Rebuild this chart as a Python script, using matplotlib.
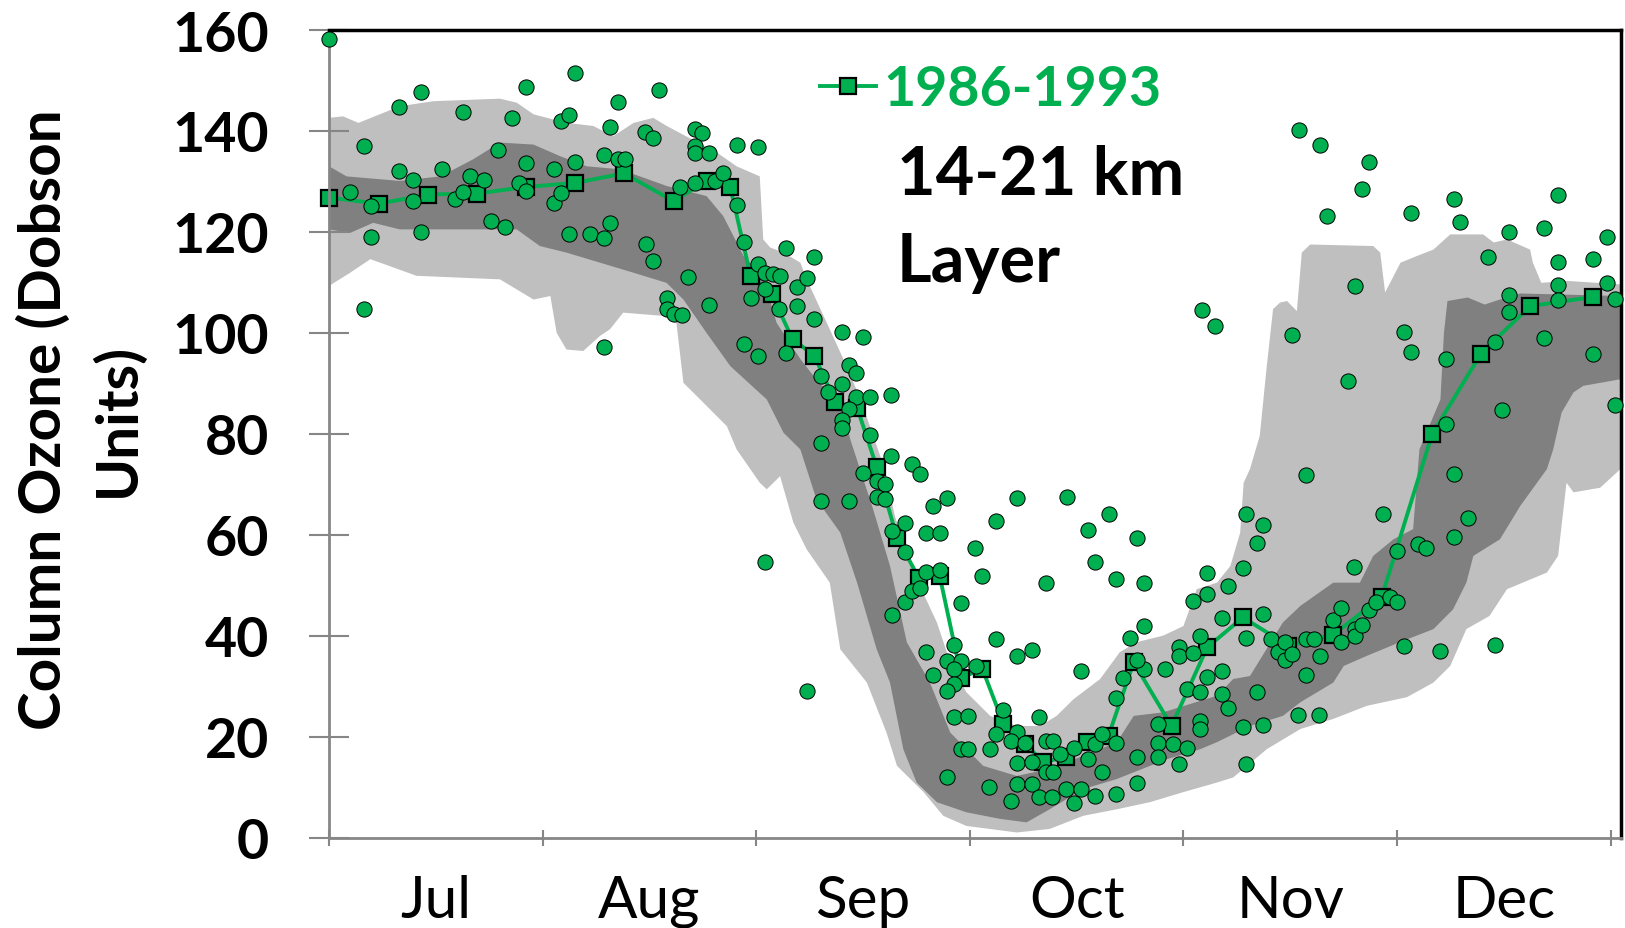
import numpy as np
import matplotlib
matplotlib.use("Agg")
import matplotlib.pyplot as plt
from matplotlib.font_manager import FontProperties

# x is days since 1 July, y is column ozone in DU
months = ["Jul", "Aug", "Sep", "Oct", "Nov", "Dec"]
month_len = 30.5

# climatology envelope (outer band)
light_top_day = [0, 2, 4.2, 10.1, 14.9, 24.4, 26.8, 29.2, 33.9, 37.7, 40.6, 43.5, 46.3, 48.2, 55.4, 58.2,
                 61.5, 62.0, 63.0, 64.9, 67.3, 68.2, 71.5, 73.9, 75.9, 79.2, 80.8, 82.5, 83.9, 86.8, 88.7,
                 91.0, 94.4, 98.2, 101.5, 103.9, 106.3, 110.1, 112.9, 115.3, 119.1, 122.0, 123.9, 126.8,
                 128.7, 130.1, 130.6, 131.5, 132.9, 133.9, 134.8, 135.8, 136.8, 138.2, 138.9, 140.1, 149.1,
                 150.1, 150.8, 153.0, 155.3, 157.7, 160.1, 164.8, 166.3, 168.2, 171.5, 171.9, 173.1, 176.7, 184.4]
light_top_du = [142.6, 142.9, 141.6, 144.9, 145.9, 146.4, 145.6, 143.3, 141.6, 141.0, 139.0, 141.6, 142.6,
                141.0, 135.7, 133.0, 131.0, 118.5, 116.9, 115.9, 113.9, 110.6, 100.7, 93.4, 86.8, 73.6, 63.7,
                56.5, 51.2, 42.6, 34.7, 28.8, 24.1, 22.1, 22.1, 24.1, 27.4, 31.4, 36.7, 38.7, 40.0, 41.9, 49.2,
                50.5, 53.8, 60.4, 70.3, 73.0, 79.6, 93.4, 104.7, 106.0, 106.3, 104.3, 115.9, 117.5, 117.2,
                115.9, 108.0, 113.9, 115.2, 116.5, 119.5, 119.5, 117.9, 118.5, 116.5, 113.9, 109.9, 110.3, 109.6]
light_bot_day = [0, 3, 5.9, 7.3, 12.5, 24.4, 26.8, 29.2, 31.6, 32.5, 33.9, 36.3, 38.7, 40.1, 42.0, 48.2,
                 49.6, 50.6, 53.0, 56.8, 58.2, 61.5, 62.5, 64.4, 66.3, 68.2, 71.5, 73.0, 76.8, 79.6, 81.1,
                 84.9, 87.7, 91.0, 98.2, 102.9, 107.7, 112.5, 117.2, 122.0, 126.8, 129.1, 133.9, 138.7,
                 143.4, 148.2, 153.9, 157.7, 160.1, 162.4, 165.7, 168.2, 173.9, 175.5, 176.7, 177.7, 181.5, 184.4]
light_bot_du = [109.3, 111.9, 114.6, 113.9, 111.3, 110.6, 108.6, 106.6, 107.3, 100.0, 96.7, 96.4, 99.4,
                100.7, 104.0, 103.3, 102.0, 90.1, 86.8, 81.5, 76.9, 70.3, 69.0, 71.6, 62.4, 57.1, 50.5, 37.3,
                30.7, 20.8, 14.2, 9.0, 4.3, 2.3, 1.0, 1.7, 4.3, 5.6, 7.0, 9.0, 10.9, 11.9, 17.5, 21.5, 23.5,
                26.1, 27.8, 30.7, 34.0, 41.3, 43.9, 49.2, 52.5, 55.8, 70.3, 68.4, 69.3, 73.0]

# inner band
dark_top_day = [0, 2.5, 10.1, 15.9, 20.6, 24.4, 29.2, 33.0, 36.8, 41.6, 48.2, 53.9, 56.3, 59.2, 62.0, 63.9,
                67.3, 70.0, 73.3, 74.4, 77.7, 80.1, 82.5, 85.8, 88.7, 93.4, 98.2, 102.9, 107.7, 112.5, 114.9,
                119.1, 126.8, 129.1, 131.5, 136.2, 138.7, 143.4, 147.2, 149.1, 152.0, 154.8, 155.7, 158.7,
                159.2, 159.7, 162.6, 165.0, 167.2, 170.1, 184.4]
dark_top_du = [133.0, 131.0, 130.1, 131.0, 134.4, 137.7, 137.3, 135.0, 133.0, 132.4, 129.1, 127.1, 123.1,
               115.2, 111.2, 102.0, 94.8, 90.0, 86.0, 79.0, 65.0, 53.8, 38.7, 30.7, 20.8, 14.2, 12.2, 13.6,
               16.2, 18.9, 24.1, 24.8, 28.1, 31.4, 32.0, 42.6, 45.9, 50.5, 50.5, 55.8, 59.1, 61.1, 76.9, 86.8,
               100.0, 106.3, 107.0, 105.6, 106.6, 107.8, 107.3]
dark_bot_day = [0, 3, 6.3, 10.1, 26.8, 30.1, 33.9, 38.7, 43.5, 48.2, 50.6, 53.9, 57.3, 62.5, 64.9, 67.3,
                69.6, 73.0, 75.4, 78.2, 80.1, 82.0, 83.9, 86.8, 91.0, 95.8, 99.6, 102.9, 107.7, 112.5, 119.6,
                124.4, 126.8, 131.5, 136.2, 138.7, 143.4, 144.9, 148.2, 152.9, 157.7, 160.5, 162.4, 163.4,
                167.2, 170.1, 173.9, 174.8, 176.0, 177.7, 179.1, 184.4]
dark_bot_du = [120.5, 119.8, 121.8, 120.5, 120.5, 117.2, 115.9, 113.9, 111.9, 109.9, 106.6, 100.0, 93.4,
               86.8, 80.2, 76.9, 67.0, 60.4, 50.5, 37.3, 30.7, 17.5, 10.9, 7.0, 5.0, 3.7, 3.0, 5.6, 9.6,
               11.6, 15.5, 17.5, 18.9, 22.1, 24.1, 26.8, 30.7, 34.0, 36.0, 38.7, 41.3, 45.2, 50.5, 55.8,
               59.1, 65.7, 73.0, 76.9, 84.2, 88.2, 89.5, 90.8]

# 1986-1993 average
mean_day = [0, 7.1, 14.1, 21.1, 28.1, 35.1, 42.1, 49.2, 53.9, 57.3, 60.2, 63.2, 66.2, 69.3, 72.3, 75.4,
            78.2, 81.1, 84.2, 87.2, 90.3, 93.3, 96.3, 99.4, 102.0, 105.3, 108.2, 111.3, 114.9, 120.3,
            125.4, 130.5, 137.0, 143.4, 150.3, 157.5, 164.5, 171.5, 180.5]
mean_du = [126.8, 125.6, 127.4, 127.6, 128.9, 129.7, 131.6, 126.1, 130.1, 128.8, 111.2, 107.6, 98.7, 95.5,
           86.2, 85.2, 73.4, 59.4, 51.5, 51.8, 31.7, 33.4, 22.5, 18.5, 15.0, 15.9, 18.9, 20.2, 34.7, 22.1,
           37.7, 43.6, 38.0, 40.2, 47.6, 79.9, 95.9, 105.3, 107.1]

# individual soundings
obs_day = [
    0.0, 3.0, 5.0, 6.0, 6.0, 5.0, 10.0, 13.1, 10.0, 12.0, 12.0, 13.1, 16.1, 19.1, 18.0, 19.1, 20.1, 22.1,
    24.1, 23.1, 25.1, 26.1, 27.1, 28.1, 28.1, 28.1, 32.1, 32.1, 33.1, 33.1, 34.2, 34.2, 35.1, 35.1, 37.2,
    39.2, 40.1, 39.2, 40.1, 41.2, 41.2, 42.3, 39.2, 45.1, 46.2, 45.2, 46.2, 47.1, 51.2, 48.2, 48.2, 49.3,
    50.4, 52.2, 53.3, 52.2, 52.2, 54.2, 50.1, 52.2, 55.1, 56.2, 58.2, 61.2, 58.2, 59.2, 61.2, 62.3, 63.4,
    64.4, 62.3, 60.2, 54.2, 64.3, 59.2, 61.2, 65.3, 65.3, 66.8, 66.8,
    69.2, 68.2, 69.2, 73.2, 76.3, 74.2, 75.3, 70.3, 73.3, 71.3, 75.3, 77.3, 80.3, 74.3, 73.3, 73.2, 77.3,
    70.3, 62.3,
    70.3, 74.3, 76.3, 78.3, 79.4, 78.3, 79.4, 80.3, 83.3, 84.4, 86.3, 88.3, 85.3, 87.3, 80.4, 82.3, 82.3,
    80.4, 82.3, 83.2, 84.4, 85.3, 87.3, 90.3, 92.3, 93.3, 95.3, 98.3, 105.4, 102.4, 108.4, 111.4, 109.4,
    112.4, 115.4, 116.4, 116.4, 114.4, 95.3, 98.3, 100.4, 107.4, 85.3, 86.3, 89.3, 88.3, 90.3, 89.3, 89.3,
    88.3, 92.4, 68.2, 89.3, 91.3, 96.3, 95.3, 98.3, 97.4, 99.4, 101.4, 102.4, 103.4, 98.3, 100.4, 102.4,
    103.4, 104.4, 106.4, 108.4, 109.4, 110.4, 112.4, 110.4, 115.4, 115.4, 112.4, 112.4, 113.4, 119.4,
    116.4, 115.4, 123.4, 125.4, 125.4, 128.4, 130.5, 127.5, 121.4, 121.4, 123.4, 124.4, 122.5, 124.4,
    125.4, 127.5, 127.5, 128.4, 130.5, 124.4, 124.4, 118.4, 118.4, 120.5, 122.5, 118.4, 121.4, 131.0,
    131.0, 131.0, 94.4, 94.3, 90.3, 91.3, 88.3, 97.4, 98.3, 100.4, 101.4, 103.3, 105.3, 106.4, 107.4, 109.4,
    139.5, 133.4, 132.5, 133.4, 134.5, 135.5, 136.5, 136.5, 137.5, 139.5, 140.6, 141.5, 139.5, 143.4,
    144.5, 144.5, 146.5, 146.5, 147.5, 148.5, 149.5, 151.5, 152.5, 153.5, 158.6, 152.5, 146.4, 150.5,
    155.5, 156.6, 160.6, 162.6, 160.6, 166.5, 138.4, 141.4, 133.4, 132.5,
    138.5, 141.5, 148.5, 147.5, 142.5, 154.5, 160.6, 161.5, 146.5, 137.5, 145.5, 153.5, 154.5, 159.5,
    159.5, 165.5, 168.5, 175.5, 173.5, 175.5, 180.5, 182.5, 168.5, 168.5, 175.5, 175.5, 182.5, 183.6,
    166.5, 173.5, 180.5, 167.5, 183.6, 124.6, 126.5,
]
obs_du = [
    158.3, 127.9, 137.1, 119.0, 125.1, 104.8, 144.8, 147.8, 132.0, 130.3, 126.1, 120.0, 132.5, 143.7,
    126.6, 127.9, 131.1, 130.3, 136.2, 122.1, 121.0, 142.5, 129.6, 148.7, 133.6, 128.1, 132.5, 125.8,
    127.8, 141.9, 143.1, 119.5, 151.4, 133.8, 119.5, 118.7, 121.7, 135.3, 140.8, 145.8, 134.5, 134.4,
    97.1, 139.8, 138.7, 117.7, 114.2, 148.1, 111.1, 107.0, 104.7, 103.7, 103.5, 140.4, 139.6, 137.0,
    135.7, 135.7, 128.8, 129.7, 130.1, 131.7, 137.2, 136.8, 125.4, 118.0, 113.6, 111.9, 111.6, 111.3,
    108.6, 107.0, 105.6, 104.8, 97.7, 95.5, 116.9, 96.1, 109.1, 105.4,
    115.1, 110.8, 102.7, 100.2, 99.2, 93.6, 92.0, 91.4, 89.8, 88.3, 87.2, 87.2, 87.6, 85.0, 82.7, 81.2,
    79.7, 78.2, 54.6,
    66.7, 66.7, 72.3, 70.7, 70.0, 67.4, 67.0, 75.6, 74.0, 72.0, 65.7, 67.3, 60.4, 60.3, 60.8, 62.3, 56.5,
    44.1, 46.6, 48.9, 49.5, 52.7, 53.0, 46.4, 57.3, 51.9, 62.7, 67.2, 67.4, 50.5, 60.9, 64.2, 54.5, 51.3,
    59.4, 50.4, 41.9, 39.6, 39.3, 35.9, 37.1, 32.9, 36.8, 32.2, 38.1, 34.9, 34.9, 33.4, 30.4, 29.1, 33.9,
    29.1, 23.8, 24.1, 25.2, 20.5, 21.0, 19.2, 18.8, 23.8, 19.2, 19.2, 14.7, 14.9, 13.0, 13.0, 16.5, 17.8,
    15.5, 18.5, 20.5, 18.8, 12.9, 15.9, 10.9, 8.6, 27.6, 31.7, 33.4, 33.4, 35.2, 46.9, 48.2, 52.5, 49.9,
    53.5, 43.4, 37.7, 36.0, 36.5, 40.0, 29.4, 28.9, 31.9, 33.0, 28.4, 25.6, 21.8, 23.1, 21.5, 22.5, 18.8,
    18.5, 17.7, 15.9, 14.5, 14.5, 39.6, 64.1, 17.5, 10.1, 17.5, 17.5, 11.9, 7.3, 10.6, 10.6, 8.1, 8.1,
    9.6, 6.8, 9.6, 8.3,
    71.8, 61.9, 58.3, 44.3, 39.4, 36.7, 38.7, 35.2, 36.3, 39.3, 39.3, 35.9, 32.2, 43.1, 45.4, 38.7, 41.3,
    40.0, 42.1, 45.0, 46.6, 47.7, 46.6, 38.0, 36.9, 56.8, 53.6, 64.2, 58.2, 57.3, 72.0, 63.4, 59.6, 38.1,
    24.3, 24.3, 22.3, 28.9,
    140.2, 137.2, 133.8, 128.5, 123.1, 123.8, 126.6, 122.0, 109.3, 99.6, 90.5, 100.2, 96.2, 94.9, 81.9,
    115.1, 120.0, 127.3, 120.8, 114.0, 114.6, 119.0, 107.4, 104.2, 109.5, 106.5, 109.9, 106.8, 98.2, 99.0,
    95.9, 84.7, 85.7, 104.5, 101.3,
]

green = "#00B050"
light_gray = "#BFBFBF"
dark_gray = "#808080"
axis_gray = "#868686"

bold = FontProperties(family="Lato", weight="bold")

fig = plt.figure(figsize=(16.25, 9.29), dpi=100)
ax = fig.add_axes([0.2025, 0.0974, 0.7949, 0.8692])

# bands as closed polygons: top edge left->right, bottom edge right->left
ax.fill(light_top_day + light_bot_day[::-1], light_top_du + light_bot_du[::-1],
        color=light_gray, lw=0, zorder=1)
ax.fill(dark_top_day + dark_bot_day[::-1], dark_top_du + dark_bot_du[::-1],
        color=dark_gray, lw=0, zorder=1.5)

ax.plot(mean_day, mean_du, color=green, lw=2.8, marker="s", ms=11.5, mfc=green,
        mec="black", mew=1.6, zorder=2, clip_on=False, label="1986-1993")
ax.scatter(obs_day, obs_du, s=120, color=green, edgecolors="black", linewidths=0.7,
           zorder=3, clip_on=False)

ax.set_xlim(0, 184.45)
ax.set_ylim(0, 160)

# month boundaries as ticks, names centred between them
ax.set_xticks([i * month_len for i in range(7)])
ax.set_xticklabels([])
ax.set_xticks([(i + 0.5) * month_len for i in range(6)], minor=True)
ax.set_xticklabels(months, minor=True, fontsize=42, family="Lato")
ax.tick_params(axis="x", which="major", direction="inout", length=12, width=1.5, color=axis_gray)
ax.tick_params(axis="x", which="minor", length=0, pad=26)

ax.set_yticks(np.arange(0, 161, 20))
ax.tick_params(axis="y", direction="inout", length=29, width=1.5, color=axis_gray, pad=29)
for lab in ax.get_yticklabels():
    lab.set_fontproperties(bold)
    lab.set_fontsize(40)

for side in ["left", "bottom"]:
    ax.spines[side].set_color(axis_gray)
    ax.spines[side].set_linewidth(2)
for side in ["top", "right"]:
    ax.spines[side].set_color("black")
    ax.spines[side].set_linewidth(2.5)

leg = ax.legend(loc="center left", bbox_to_anchor=(820 / 1625, 1 - 90 / 929),
                bbox_transform=fig.transFigure, frameon=False, borderpad=0, borderaxespad=0,
                handlelength=1.0, handletextpad=0.15, numpoints=1,
                prop=FontProperties(family="Lato", weight="bold", size=40))
for t in leg.get_texts():
    t.set_color(green)

# baseline alignment here lands on the last line ("Layer")
fig.text(897 / 1625, 1 - 282 / 929, "14-21 km\nLayer", fontproperties=bold, fontsize=48,
         va="baseline", ha="left", linespacing=1.5)

fig.text(81 / 1625, 1 - 420 / 929, "Column Ozone (Dobson\nUnits)", fontproperties=bold,
         fontsize=42, rotation=90, ha="center", va="center", multialignment="center",
         linespacing=1.45)

fig.savefig("out.png", dpi=100)
